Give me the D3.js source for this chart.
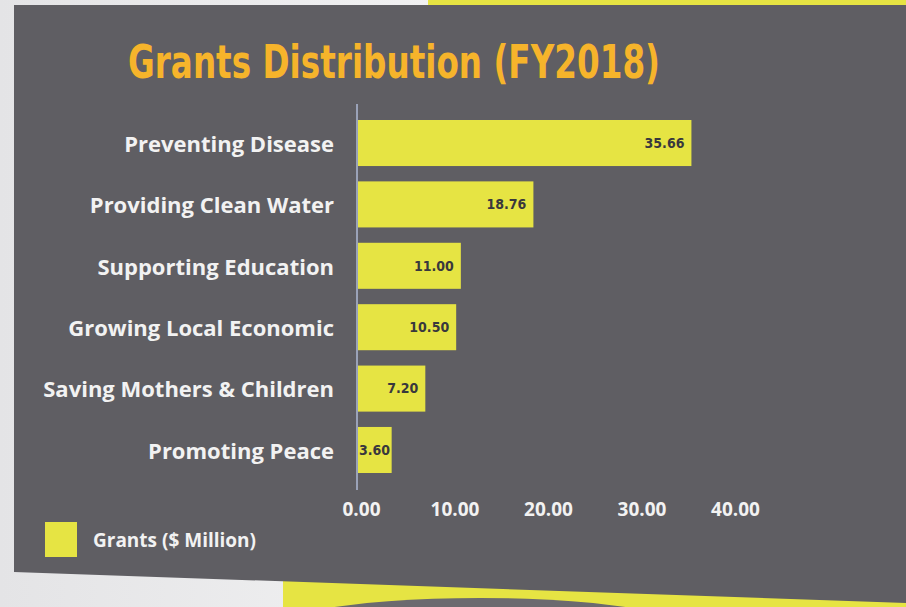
<!DOCTYPE html>
<html>
<head>
<meta charset="utf-8">
<script src="https://cdn.jsdelivr.net/npm/d3@7/dist/d3.min.js"></script>
<style>
  body { margin: 0; background: #fff; }
  svg { display: block; }
</style>
</head>
<body>
<svg id="chart" width="906" height="607"></svg>
<script>
// data
var categories = ["Preventing Disease", "Providing Clean Water", "Supporting Education",
                  "Growing Local Economic", "Saving Mothers & Children", "Promoting Peace"];
var grants = [35.66, 18.76, 11.00, 10.50, 7.20, 3.60];
var xTicks = [0, 10, 20, 30, 40];
var seriesName = "Grants ($ Million)";

var svg = d3.select("#chart");

var gray = "#5f5e63";
var yellow = "#e6e443";

// background decoration
var bgGrad = svg.append("defs").append("linearGradient").attr("id", "leftfade")
    .attr("x1", 0).attr("x2", 1).attr("y1", 0).attr("y2", 0);
bgGrad.append("stop").attr("offset", "0").attr("stop-color", "#e4e4e6");
bgGrad.append("stop").attr("offset", "1").attr("stop-color", "#ffffff");
svg.append("rect").attr("width", 906).attr("height", 607).attr("fill", "url(#leftfade)");

svg.append("rect").attr("x", 428).attr("y", 0).attr("width", 478).attr("height", 6)
    .attr("fill", yellow);

svg.append("polygon")
    .attr("points", "283,578 906,596 906,607 283,607")
    .attr("fill", yellow);

svg.append("ellipse")
    .attr("cx", 480).attr("cy", 642).attr("rx", 240).attr("ry", 44)
    .attr("fill", "#6b6a6f");

svg.append("polygon")
    .attr("points", "14,5 906,5 906,603 14,572")
    .attr("fill", gray);

// title
svg.append("text")
    .attr("x", 128).attr("y", 78)
    .attr("textLength", 532)
    .attr("lengthAdjust", "spacingAndGlyphs")
    .style("font-family", "'Liberation Sans Narrow', 'DejaVu Sans Condensed', sans-serif")
    .style("font-weight", "bold")
    .style("font-size", "46px")
    .attr("fill", "#f6b42b")
    .text("Grants Distribution (FY2018)");

// scales
var x = d3.scaleLinear().domain([0, 40]).range([358, 732]);
var y = d3.scaleBand().domain(categories).range([120, 473]).paddingInner(0.25).paddingOuter(0);

// bars
svg.selectAll(".bar")
    .data(categories)
    .enter().append("rect")
    .attr("class", "bar")
    .attr("x", x(0))
    .attr("y", function(d) { return y(d); })
    .attr("width", function(d, i) { return x(grants[i]) - x(0); })
    .attr("height", y.bandwidth())
    .attr("fill", yellow);

// value labels (short bars: keep label clear of the axis)
svg.selectAll(".val")
    .data(categories)
    .enter().append("text")
    .attr("class", "val")
    .attr("x", function(d, i) { return Math.max(x(grants[i]) - 7, x(0) + 32); })
    .attr("y", function(d) { return y(d) + y.bandwidth() / 2; })
    .attr("dy", "0.35em")
    .attr("text-anchor", "end")
    .style("font-family", "'Liberation Sans Narrow', 'DejaVu Sans Condensed', sans-serif")
    .style("font-weight", "bold")
    .style("font-size", "14px")
    .attr("fill", "#39383d")
    .text(function(d, i) { return grants[i].toFixed(2); });

// y axis (category labels)
var yAxis = svg.append("g")
    .attr("transform", "translate(" + x(0) + ",0)")
    .call(d3.axisLeft(y).tickSize(0).tickPadding(24));
yAxis.select(".domain").remove();
yAxis.selectAll("text")
    .attr("dy", "0.4em")
    .style("font-family", "'Open Sans', sans-serif")
    .style("font-weight", "bold")
    .style("font-size", "22px")
    .attr("fill", "#f2f2f2");

svg.append("line")
    .attr("x1", x(0) - 1).attr("x2", x(0) - 1)
    .attr("y1", 104).attr("y2", 490)
    .attr("stroke", "#9aa2b8").attr("stroke-width", 2);

// x axis
var xAxis = svg.append("g")
    .attr("transform", "translate(3,498)")
    .call(d3.axisBottom(x).tickValues(xTicks).tickFormat(d3.format(".2f")).tickSize(0).tickPadding(4));
xAxis.select(".domain").remove();
xAxis.selectAll("text")
    .style("font-family", "'Open Sans', sans-serif")
    .style("font-weight", "bold")
    .style("font-size", "19px")
    .attr("fill", "#f2f2f2");

// legend
svg.append("rect")
    .attr("x", 45).attr("y", 522).attr("width", 32).attr("height", 35)
    .attr("fill", yellow);
svg.append("text")
    .attr("x", 93).attr("y", 540).attr("dy", "0.35em")
    .style("font-family", "'Open Sans', sans-serif")
    .style("font-weight", "bold")
    .style("font-size", "19px")
    .attr("fill", "#f2f2f2")
    .text(seriesName);
</script>
</body>
</html>
